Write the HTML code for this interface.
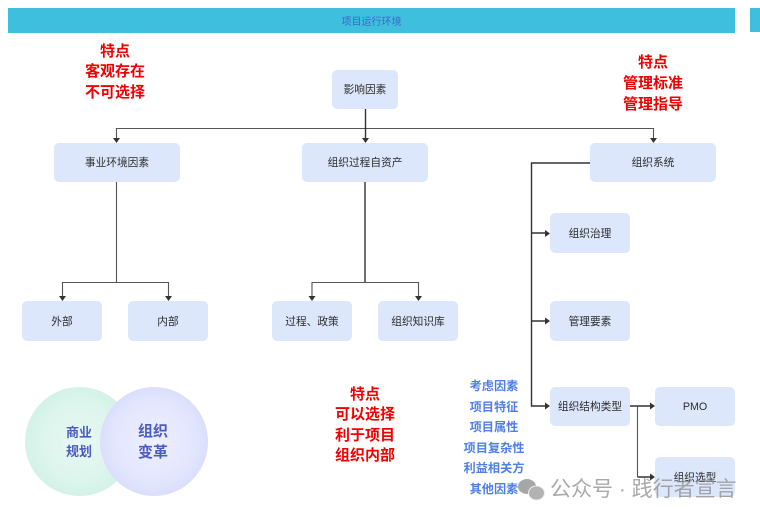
<!DOCTYPE html>
<html lang="zh"><head><meta charset="utf-8"><style>
html,body{margin:0;padding:0;background:#fff}
#c{position:relative;width:760px;height:521px;overflow:hidden;font-family:"Liberation Sans","Noto Sans CJK SC",sans-serif;filter:blur(.35px)}
.n{position:absolute;background:#dce7fc;border-radius:5px;display:flex;align-items:center;justify-content:center;font-size:10.7px;color:#2c2c2c;white-space:nowrap}
.t{position:absolute;text-align:center;white-space:nowrap;font-weight:700}
.r{color:#f00000;font-size:15px;line-height:20.4px}
.b{color:#4f7fe6;font-size:12.2px;line-height:20.6px;width:80px;left:454px;top:376px}
svg{position:absolute;left:0;top:0}
.ct{color:#4a5cc0;font-size:13px;line-height:18.5px}
</style></head><body><div id="c">
<div style="position:absolute;left:8px;top:8px;width:727px;height:25px;background:#3dbfdd;display:flex;align-items:center;justify-content:center;font-size:10px;color:#3f68c8">项目运行环境</div>
<div style="position:absolute;left:750px;top:8px;width:10px;height:24px;background:#3dbfdd"></div>

<div style="position:absolute;left:25px;top:387px;width:109px;height:109px;border-radius:50%;background:radial-gradient(circle,#e9f8f4 0%,#dcf5ed 50%,#c6eee1 100%)"></div>
<div style="position:absolute;left:100px;top:387px;width:108px;height:109px;border-radius:50%;background:radial-gradient(circle,#eef0ff 0%,#e2e5fd 55%,#cdd2fb 100%)"></div>
<div class="t ct" style="left:59px;top:424px;width:40px;">商业<br>规划</div>
<div class="t ct" style="left:133px;top:422px;width:40px;font-size:15px;line-height:20.500px">组织<br>变革</div>

<svg width="760" height="521" fill="none">
<g stroke="#555" stroke-width="1.100">
<path d="M116 128.500H653.500M116.500 128V139M653.500 128V139"/>
<path d="M62.500 282.500H168.500M62.500 282V297M168.500 282V297"/>
<path d="M312 282.500H418.500M312 282V297M418.500 282V297"/>
<path d="M116.500 182V282"/>
<path d="M637.500 406V477"/>
</g>
<g stroke="#333" stroke-width="1.400">
<path d="M365.500 109V139"/>
<path d="M365 182V282"/>
<path d="M590 163H531.500V406H546"/>
<path d="M531.500 233H546M531.500 321H546"/>
<path d="M630 406H651M637.500 477H651"/>
</g>
<g fill="#333">
<path d="M113 138h7l-3.500 5zM362 138h7l-3.500 5zM650 138h7l-3.500 5z"/>
<path d="M59 296h7l-3.500 5zM165 296h7l-3.500 5zM308.500 296h7l-3.500 5zM415 296h7l-3.500 5z"/>
<path d="M545 230v7l5-3.500zM545 317.500v7l5-3.500zM545 402.500v7l5-3.500zM650 402.500v7l5-3.500zM650 473.500v7l5-3.500z"/>
</g>
</svg>

<div class="n" style="left:332px;top:70px;width:66px;height:39px">影响因素</div>
<div class="n" style="left:54px;top:143px;width:126px;height:39px">事业环境因素</div>
<div class="n" style="left:302px;top:143px;width:126px;height:39px">组织过程自资产</div>
<div class="n" style="left:590px;top:143px;width:126px;height:39px">组织系统</div>
<div class="n" style="left:22px;top:301px;width:80px;height:40px">外部</div>
<div class="n" style="left:128px;top:301px;width:80px;height:40px">内部</div>
<div class="n" style="left:272px;top:301px;width:80px;height:40px">过程、政策</div>
<div class="n" style="left:378px;top:301px;width:80px;height:40px">组织知识库</div>
<div class="n" style="left:550px;top:213px;width:80px;height:40px">组织治理</div>
<div class="n" style="left:550px;top:301px;width:80px;height:40px">管理要素</div>
<div class="n" style="left:550px;top:387px;width:80px;height:39px">组织结构类型</div>
<div class="n" style="left:655px;top:387px;width:80px;height:39px">PMO</div>
<div class="n" style="left:655px;top:457px;width:80px;height:40px">组织选型</div>

<div class="t r" style="left:75px;top:42px;width:80px">特点<br>客观存在<br>不可选择</div>
<div class="t r" style="left:613px;top:52px;width:80px;line-height:21px">特点<br>管理标准<br>管理指导</div>
<div class="t r" style="left:325px;top:385px;width:80px">特点<br>可以选择<br>利于项目<br>组织内部</div>
<div class="t b">考虑因素<br>项目特征<br>项目属性<br>项目复杂性<br>利益相关方<br>其他因素</div>

<svg width="760" height="521">
<ellipse cx="527" cy="486.500" rx="9" ry="7.500" fill="#a6a6a6"/>
<ellipse cx="536.500" cy="493" rx="8" ry="7" fill="#b2b2b2" stroke="#eee" stroke-width="1"/>
</svg>
<div style="position:absolute;left:550px;top:477px;font-size:21px;line-height:26px;color:rgba(140,140,140,.75);white-space:nowrap">公众号 · 践行者宣言</div>
</div></body></html>
